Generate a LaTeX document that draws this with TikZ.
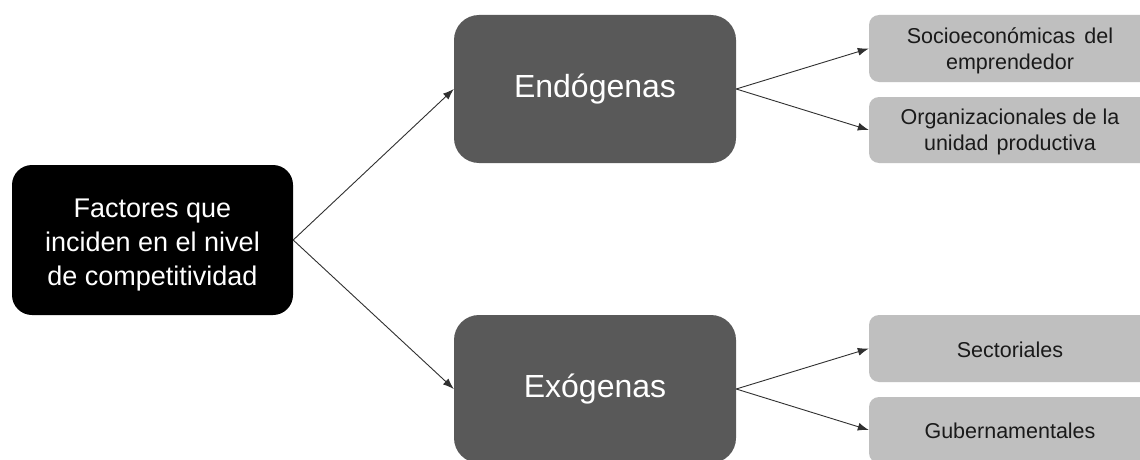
\documentclass[tikz,border=0pt]{standalone}
\usepackage{fontspec}
\setmainfont{Liberation Sans}
\usetikzlibrary{arrows.meta}
\definecolor{darkbox}{HTML}{595959}
\definecolor{lightbox}{HTML}{BFBFBF}
\definecolor{lighttext}{HTML}{1A1A1A}
\definecolor{linecol}{HTML}{303030}
\tikzset{
  mainbox/.style={rectangle, rounded corners=20pt, fill=black,
    minimum width=281pt, minimum height=150pt, inner sep=0pt},
  maintext/.style={text=white, align=center, inner sep=0pt,
    font=\fontsize{27}{34}\selectfont},
  midbox/.style={rectangle, rounded corners=25pt, fill=darkbox, text=white, align=center,
    minimum width=282pt, minimum height=148pt, inner sep=0pt,
    font=\fontsize{32}{38}\selectfont},
  leafbox/.style={rectangle, rounded corners=10pt, fill=lightbox,
    minimum width=282pt, minimum height=67pt, inner sep=0pt},
  leaftext/.style={text=lighttext, align=center, inner sep=0pt,
    font=\fontsize{21.5}{26}\selectfont}
  ,conn/.style={draw=linecol, line width=0.9pt, -{Latex[length=11pt,width=8pt]}}
}
\begin{document}
\begin{tikzpicture}[x=1pt,y=-1pt]
\useasboundingbox (0,0) rectangle (1140,460);
\fill[white] (0,0) rectangle (1140,460);
\begin{scope}
\clip (0,0) rectangle (1140,460);
\node[mainbox] (fac) at (152.5,240) {};
\node[maintext] (factxt) at ([yshift=-5pt]fac.center) {Factores que\\inciden en el nivel\\de competitividad};
\node[midbox] (endo) at (595,89) {Endógenas};
\node[midbox] (exo) at (595,389) {Exógenas};
\node[leafbox] (socio) at (1010,48.5) {};
\node[leaftext] (sociotxt) at ([yshift=-2pt]socio.center) {Socioeconómicas\hspace{0.15em} del\\emprendedor};
\node[leafbox, minimum height=66pt] (orga) at (1010,130) {};
\node[leaftext] (orgatxt) at ([yshift=-2pt]orga.center) {Organizacionales de la\\unidad\hspace{0.1em} productiva};
\node[leafbox] (sect) at (1010,348.5) {};
\node[leaftext] (secttxt) at ([yshift=-1pt]sect.center) {Sectoriales};
\node[leafbox, minimum height=66pt] (gube) at (1010,430) {};
\node[leaftext] (gubetxt) at ([yshift=-1pt]gube.center) {Gubernamentales};
\draw[conn] (fac.east) -- (endo.west);
\draw[conn] (fac.east) -- (exo.west);
\draw[conn] (endo.east) -- (socio.west);
\draw[conn] (endo.east) -- (orga.west);
\draw[conn] (exo.east) -- (sect.west);
\draw[conn] (exo.east) -- (gube.west);
\end{scope}
\end{tikzpicture}
\end{document}
